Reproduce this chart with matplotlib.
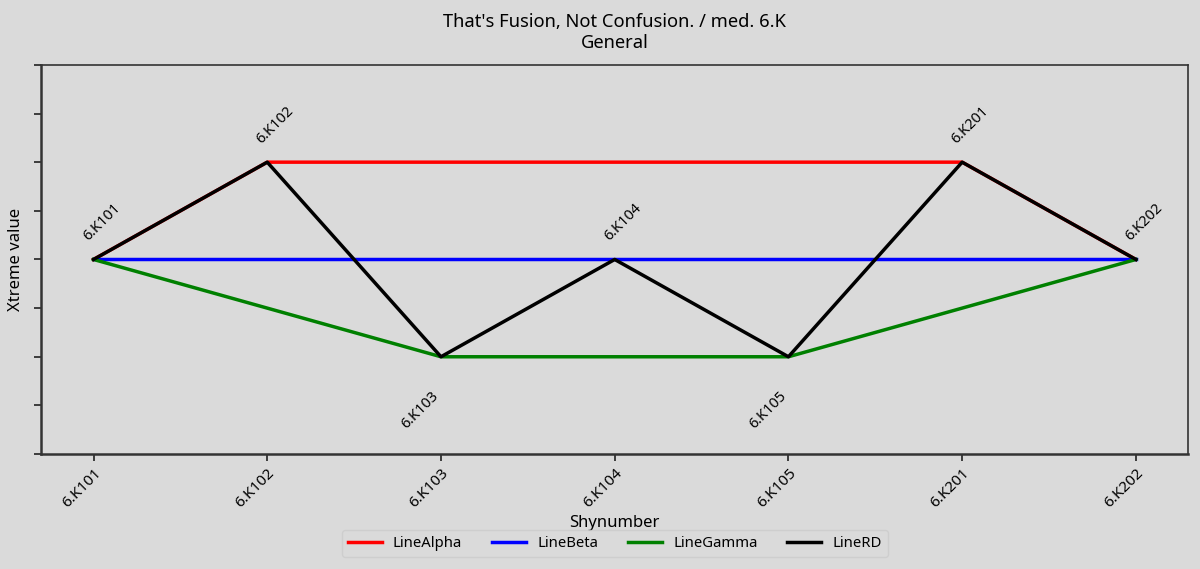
import matplotlib
matplotlib.use('Agg')
import matplotlib.pyplot as plt
import numpy as np

plt.rcParams['font.family'] = ['Noto Sans', 'DejaVu Sans']

categories = ['6.K101', '6.K102', '6.K103', '6.K104', '6.K105', '6.K201', '6.K202']
line_alpha = [0, 1, 1, 1, 1, 1, 0]
line_beta = [0, 0, 0, 0, 0, 0, 0]
line_gamma = [0, -0.5, -1, -1, -1, -0.5, 0]
line_rd = [0, 1, -1, 0, -1, 1, 0]

BG = '#dadada'
fig = plt.figure(figsize=(12, 5.69), dpi=100, facecolor=BG)
ax = fig.add_axes([0.0345, 0.202, 0.9555, 0.684])
ax.set_facecolor(BG)

x = np.arange(len(categories))
ax.plot(x, line_alpha, color='red', linewidth=2.5, label='LineAlpha')
ax.plot(x, line_beta, color='blue', linewidth=2.5, label='LineBeta')
ax.plot(x, line_gamma, color='green', linewidth=2.5, label='LineGamma')
ax.plot(x, line_rd, color='black', linewidth=2.5, label='LineRD')

# point labels on the RD line
for xi, yi, name in zip(x, line_rd, categories):
    if yi < 0:
        ax.annotate(name, (xi, yi), xytext=(-15, -23), textcoords='offset points',
                    ha='center', va='top', rotation=45, fontsize=10.5)
    else:
        ax.annotate(name, (xi, yi), xytext=(6, 11), textcoords='offset points',
                    ha='center', va='bottom', rotation=45, fontsize=10.5)

ax.set_xlim(-0.3, len(categories) - 0.7)
ax.set_ylim(-2, 2)
ax.set_yticks(np.arange(-2, 2.01, 0.5))
ax.set_yticklabels([])
ax.set_xticks(x)
ax.set_xticklabels(categories, rotation=45, ha='right', rotation_mode='anchor', fontsize=11)
ax.tick_params(axis='both', colors='#222222', labelcolor='black', length=5, width=1.2)

for side in ['left', 'bottom']:
    ax.spines[side].set_linewidth(1.8)
    ax.spines[side].set_color('#333333')
for side in ['top', 'right']:
    ax.spines[side].set_linewidth(1.2)
    ax.spines[side].set_color('#333333')

ax.set_xlabel('Shynumber', fontsize=12, labelpad=3)
ax.set_ylabel('Xtreme value', fontsize=12, labelpad=4)
ax.set_title("That's Fusion, Not Confusion. / med. 6.K\nGeneral", fontsize=13.2, pad=12)

leg = ax.legend(loc='lower center', bbox_to_anchor=(0.5, -0.265), ncol=4, fontsize=10.7,
                frameon=True, handlelength=2.3, handletextpad=0.75, columnspacing=2.0,
                borderaxespad=0)
leg.get_frame().set_facecolor(BG)
leg.get_frame().set_edgecolor('#cccccc')

fig.savefig('out.png', dpi=100, facecolor=BG)
